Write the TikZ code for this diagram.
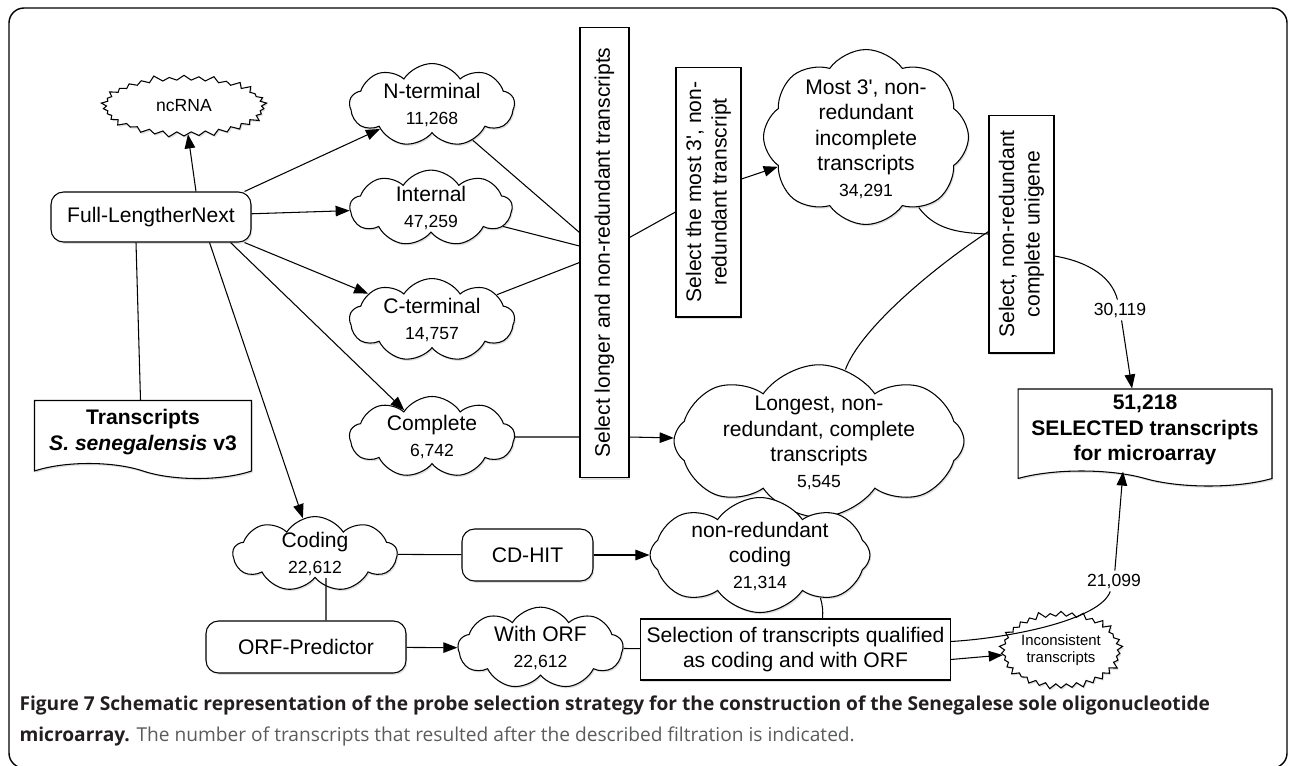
\documentclass[tikz,border=0pt]{standalone}
\usepackage{fontspec}
\setmainfont{Liberation Sans}
\newfontfamily\capfont{Open Sans}
\usetikzlibrary{shapes.symbols,shadows,arrows.meta}
\definecolor{capdark}{HTML}{231F20}
\definecolor{capgray}{HTML}{5A5B5D}
\newcommand{\cntnum}[1]{{\fontsize{10}{12}\selectfont #1}}
\tikzset{
    softshadow/.style={drop shadow={shadow xshift=0.7pt, shadow yshift=-1pt, opacity=0.25}},
    puff/.style={cloud, cloud puffs=9, cloud puff arc=115, cloud ignores aspect, draw, fill=white, softshadow, align=center, inner sep=0pt},
    bigpuff/.style={puff, cloud puffs=8, cloud puff arc=110},
    burst/.style={starburst, starburst points=34, starburst point height=0.13cm, draw, fill=white, softshadow, align=center, inner sep=0pt},
    tool/.style={rectangle, rounded corners=0.25cm, draw, fill=white, softshadow},
    vbox/.style={rectangle, draw, fill=white, softshadow},
    docbox/.style={tape, tape bend top=none, tape bend bottom=out and in, tape bend height=0.3cm, draw, fill=white, softshadow, align=center, font=\bfseries\fontsize{12}{14.5}\selectfont},
    link/.style={line width=0.6pt},
    flow/.style={link, -{Triangle[length=8pt, width=6pt]}},
    tally/.style={fill=white, inner sep=1.5pt, font=\fontsize{10}{12}\selectfont}
}

\begin{document}
\begin{tikzpicture}
  [
    x                 = 0.02cm,
    y                 = -0.02cm,
    line width        = 0.6pt,
    every node/.style = {font=\fontsize{12}{14.5}\selectfont},
  ]
  \useasboundingbox (0,0) rectangle (1290,765);
  \draw[line width=0.8pt, rounded corners=0.3cm] (9,8) rectangle (1287,768);

  \node [burst, minimum width=3.36cm, minimum height=1.3cm, font=\fontsize{10}{12}\selectfont] (ncrna) at (184,106) {ncRNA};
  \node [tool, minimum width=4cm, minimum height=1cm] (fln) at (151,217) {Full-LengtherNext};
  \node [docbox, minimum width=4.34cm, minimum height=1.56cm] (trans) at (143,432) {Transcripts\\\textit{S. senegalensis} v3};

  \node [puff, minimum width=3.3cm, minimum height=1.2cm] (nterm) at (432,105) {N-terminal\\\cntnum{11,268}};
  \node [puff, minimum width=3.24cm, minimum height=1.14cm] (internal) at (431,208) {Internal\\\cntnum{47,259}};
  \node [puff, minimum width=3.3cm, minimum height=1.2cm] (cterm) at (432,320) {C-terminal\\\cntnum{14,757}};
  \node [puff, minimum width=3.3cm, minimum height=1.24cm] (complete) at (432,437) {Complete\\\cntnum{6,742}};

  \node [vbox, minimum width=0.98cm, minimum height=9.02cm] (sel) at (604.5,252.5) {};
  \node [rotate=90] (seltxt) at (sel) {Select longer and non-redundant transcripts};
  \node [vbox, minimum width=1.3cm, minimum height=5cm] (sel3) at (708.5,192) {};
  \node [rotate=90, align=center] (sel3txt) at (sel3) {Select the most 3\textquotesingle, non-\\redundant transcript};
  \node [bigpuff, minimum width=4.1cm, minimum height=3.5cm] (most3) at (866,137) {};
  \node [align=center] (most3txt) at (866,139) {Most 3\textquotesingle, non-\\redundant\\incomplete\\transcripts\\\cntnum{34,291}};
  \node [bigpuff, minimum width=5.8cm, minimum height=3.05cm] (longest) at (819,441) {};
  \node [align=center] (longtxt) at (819,443) {Longest, non-\\redundant, complete\\transcripts\\\cntnum{5,545}};
  \node [vbox, minimum width=1.3cm, minimum height=4.76cm] (unig) at (1021.5,234) {};
  \node [rotate=90, align=center] (unigtxt) at (unig) {Select, non-redundant\\complete unigene};
  \node [docbox, minimum width=5.08cm, minimum height=1.94cm] (final) at (1145,430) {51,218\\SELECTED transcripts\\for microarray};
  \node [tally] (n30) at (1120,310) {30,119};
  \node [tally] (n21) at (1114,581) {21,099};

  \node [puff, minimum width=3.28cm, minimum height=1.24cm] (coding) at (315,554) {Coding\\\cntnum{22,612}};
  \node [tool, minimum width=2.62cm, minimum height=1.04cm] (cdhit) at (527.5,555) {CD-HIT};
  \node [bigpuff, minimum width=4.4cm, minimum height=2.3cm] (nrcod) at (760,555) {};
  \node [align=center] (nrcodtxt) at (760,556) {non-redundant\\coding\\\cntnum{21,314}};
  \node [tool, minimum width=4cm, minimum height=1.04cm] (orf) at (306,647) {ORF-Predictor};
  \node [puff, minimum width=3.3cm, minimum height=1.3cm] (withorf) at (540.5,648) {With ORF\\\cntnum{22,612}};
  \node [vbox, minimum width=5.34cm, minimum height=1.22cm, align=center] (selq) at (795.5,649.5) {Selection of transcripts qualified\\as coding and with ORF};
  \node [burst, minimum width=2.3cm, minimum height=1.62cm, font=\fontsize{8.5}{10}\selectfont] (incons) at (1061,650) {Inconsistent\\transcripts};

  \draw [flow] ([xshift=0.9cm]fln.north) -- (ncrna);
  \draw [flow] ([xshift=-0.14cm]fln.north east) -- (nterm);
  \draw [flow] (fln) -- (internal);
  \draw [flow] ([xshift=-0.14cm]fln.south east) -- (cterm);
  \draw [flow] ([xshift=-0.42cm]fln.south east) -- (complete);
  \draw [flow] ([xshift=-0.84cm]fln.south east) -- (coding);
  \draw [link] ([xshift=-0.3cm]fln.south) -- ([xshift=-0.05cm]trans.north);

  \draw [link] (nterm) -- ([yshift=0.4cm]sel.west);
  \draw [link] (internal) -- ([yshift=0.13cm]sel.west);
  \draw [link] (cterm) -- ([yshift=-0.2cm]sel.west);
  \draw [link] (complete) -- (complete -| sel.west);
  \draw [flow] (sel.east |- complete) -- (longest);
  \draw [link] ([yshift=0.3cm]sel.east) -- ([yshift=-0.4cm]sel3.west);
  \draw [flow] ([yshift=0.26cm]sel3.east) -- (most3);
  \draw [link] (most3) .. controls (934,228) and (955,233) .. (unig.west);
  \draw [link] (longest) .. controls (860,330) and (930,270) .. ([yshift=0.05cm]unig.west);
  \draw [link] ([yshift=-0.44cm]unig.east) .. controls (1090,262) and (1112,278) .. (n30);
  \draw [flow] (n30) -- ([xshift=-0.26cm]final.north);

  \draw [link] (coding) -- (cdhit);
  \draw [flow] (cdhit) -- (nrcod);
  \draw [link] ([xshift=0.22cm]coding.south) -- ([xshift=0.4cm]orf.north);
  \draw [flow] (orf) -- (withorf);
  \draw [link] (withorf) -- (selq);
  \draw [link] (nrcod) to[bend left=10] ([xshift=0.54cm]selq.north);
  \draw [link] ([yshift=0.16cm]selq.east) .. controls (1010,638) and (1100,620) .. (n21);
  \draw [flow] (n21) -- ([xshift=-0.44cm]final.south);
  \draw [flow] ([yshift=-0.2cm]selq.east) -- (incons);

  \node [anchor=base west, inner sep=0pt, text=capdark, font=\capfont\bfseries\fontsize{10.9}{12}\selectfont] (cap1) at (19,710) {Figure 7 Schematic representation of the probe selection strategy for the construction of the Senegalese sole oligonucleotide};
  \node [anchor=base west, inner sep=0pt, text=capgray, font=\capfont\fontsize{10.9}{12}\selectfont] (cap2) at (19,741) {\textbf{\color{capdark}microarray.} The number of transcripts that resulted after the described filtration is indicated.};
\end{tikzpicture}
\end{document}
